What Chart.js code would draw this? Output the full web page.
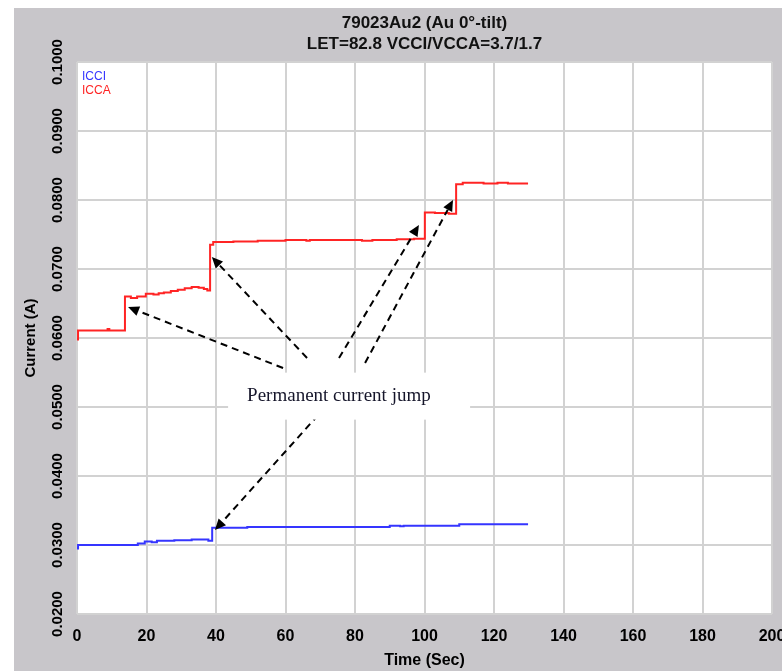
<!DOCTYPE html>
<html>
<head>
<meta charset="utf-8">
<script src="https://cdn.jsdelivr.net/npm/chart.js@4.4.1/dist/chart.umd.min.js"></script>
<style>
  html, body { margin: 0; padding: 0; background: #ffffff; }
  #wrap { width: 782px; height: 671px; }
</style>
</head>
<body>
<div id="wrap"><canvas id="c" width="782" height="671"></canvas></div>
<script>
// Chart text
const titleLines = ['79023Au2 (Au 0°-tilt)', 'LET=82.8 VCCI/VCCA=3.7/1.7'];
const seriesNames = ['ICCI', 'ICCA'];
const xAxisTitle = 'Time (Sec)';
const yAxisTitle = 'Current (A)';

// Axis ranges
const timeMin = 0, timeMax = 200, timeStep = 20;
const currentMin = 0.02, currentMax = 0.1, currentStep = 0.01;

// ICCI supply current: time (s) at which each level starts, and the level (A)
const icciTime    = [0,      0.3,    17.5,   19.5,   21.5,   23,     28,     33,     37.8,   38.9,   49,     90,     93,     94,     110,    129.8];
const icciCurrent = [0.0295, 0.0300, 0.0302, 0.0305, 0.0304, 0.0306, 0.0307, 0.0308, 0.0306, 0.0325, 0.0326, 0.0328, 0.0327, 0.0328, 0.0330, 0.0330];

// ICCA supply current
const iccaTime    = [0,      0.3,    8.8,    9.3,    13.8,   15.5,   17.3,   19.8,   22,     23.5,   25,     27,     29,     31,     33,     35,     36.5,   37.5,   38.3,   39.2,   45,     52,     60,     66,     67,     75,     82,     85,     92,     97,     100.1,  103,    107,    109.1,  111,    117,    121,    124,    129.8];
const iccaCurrent = [0.0598, 0.0611, 0.0613, 0.0611, 0.0660, 0.0658, 0.0660, 0.0664, 0.0663, 0.0665, 0.0666, 0.0668, 0.0670, 0.0672, 0.0674, 0.0673, 0.0671, 0.0669, 0.0735, 0.0739, 0.0740, 0.0741, 0.0742, 0.0741, 0.0742, 0.0742, 0.0741, 0.0742, 0.0743, 0.0744, 0.0782, 0.0781, 0.0780, 0.0823, 0.0825, 0.0824, 0.0825, 0.0824, 0.0824];

// Call-out: label position and the current jumps it points at (time, current)
const noteText = 'Permanent current jump';
const noteAt = [78.3, 0.0515];
const arrowFrom = [[59.3, 0.05565], [66.2, 0.0571], [75.4, 0.0571], [82.9, 0.05638], [69.4, 0.04884]];
const arrowTo   = [[14.7, 0.06449], [38.8, 0.07174], [98.4, 0.07638], [108.2, 0.0800], [39.7, 0.03217]];

const seriesColors = ['#3535ff', '#ff2424'];
const panelGray = '#c8c6ca';
const xTickFont = { family: '"Liberation Sans Narrow", "Liberation Sans", Arial, sans-serif', size: 16, weight: 'bold' };
const yTickFont = { family: '"Liberation Sans", Arial, sans-serif', size: 15, weight: 'bold' };

function toPoints(xs, ys) { return xs.map((x, i) => ({ x: x, y: ys[i] })); }

// measure the widest y label so the rotated labels sit centred in their column
const mctx = document.createElement('canvas').getContext('2d');
mctx.font = 'bold 15px "Liberation Sans", Arial, sans-serif';
const yLabelWidth = mctx.measureText('0.1000').width;

const backdrop = {
  id: 'backdrop',
  beforeDraw(chart) {
    const { ctx, width, height, chartArea: a } = chart;
    ctx.save();
    ctx.fillStyle = '#ffffff';
    ctx.fillRect(0, 0, width, height);
    ctx.fillStyle = panelGray;
    ctx.fillRect(14, 8, width - 14, height - 8);
    ctx.fillStyle = '#ffffff';
    ctx.fillRect(a.left, a.top, a.right - a.left, a.bottom - a.top);
    ctx.restore();
  }
};

const headings = {
  id: 'headings',
  afterDraw(chart) {
    const { ctx, chartArea: a } = chart;
    ctx.save();
    ctx.fillStyle = '#111111';
    ctx.textAlign = 'center';
    ctx.textBaseline = 'middle';
    ctx.font = 'bold 17px "Liberation Sans Narrow", "Liberation Sans", Arial, sans-serif';
    const cx = (a.left + a.right) / 2;
    ctx.fillText(titleLines[0], cx, a.top - 39);
    ctx.fillText(titleLines[1], cx, a.top - 18);
    // series key in the top-left corner of the plot
    ctx.textAlign = 'left';
    ctx.font = '12px "Liberation Sans", Arial, sans-serif';
    chart.data.datasets.forEach((ds, i) => {
      ctx.fillStyle = ds.borderColor;
      ctx.fillText(ds.label, a.left + 5, a.top + 15 + i * 14);
    });
    ctx.restore();
  }
};

const callout = {
  id: 'callout',
  afterDatasetsDraw(chart) {
    const { ctx, scales: { x, y } } = chart;
    ctx.save();
    ctx.strokeStyle = '#000000';
    ctx.fillStyle = '#000000';
    ctx.lineWidth = 2;
    arrowFrom.forEach((from, i) => {
      const x0 = x.getPixelForValue(from[0]), y0 = y.getPixelForValue(from[1]);
      const x1 = x.getPixelForValue(arrowTo[i][0]), y1 = y.getPixelForValue(arrowTo[i][1]);
      const ang = Math.atan2(y1 - y0, x1 - x0);
      const headLen = 11, headW = 5;
      const bx = x1 - headLen * Math.cos(ang), by = y1 - headLen * Math.sin(ang);
      ctx.setLineDash([7, 5]);
      ctx.beginPath();
      ctx.moveTo(x0, y0);
      ctx.lineTo(bx, by);
      ctx.stroke();
      ctx.setLineDash([]);
      ctx.beginPath();
      ctx.moveTo(x1, y1);
      ctx.lineTo(bx + headW * Math.sin(ang), by - headW * Math.cos(ang));
      ctx.lineTo(bx - headW * Math.sin(ang), by + headW * Math.cos(ang));
      ctx.closePath();
      ctx.fill();
    });
    const cx = x.getPixelForValue(noteAt[0]), cy = y.getPixelForValue(noteAt[1]);
    ctx.fillStyle = '#ffffff';
    ctx.fillRect(cx - 121, cy - 24, 242, 47);
    ctx.fillStyle = '#15152a';
    ctx.font = '19px "Liberation Serif", "Times New Roman", serif';
    ctx.textAlign = 'left';
    ctx.textBaseline = 'alphabetic';
    ctx.fillText(noteText, cx - 102, cy + 4);
    ctx.restore();
  }
};

new Chart(document.getElementById('c'), {
  type: 'line',
  data: {
    datasets: [
      { label: seriesNames[0], data: toPoints(icciTime, icciCurrent), borderColor: seriesColors[0],
        borderWidth: 2, pointRadius: 0, stepped: true, fill: false },
      { label: seriesNames[1], data: toPoints(iccaTime, iccaCurrent), borderColor: seriesColors[1],
        borderWidth: 2, pointRadius: 0, stepped: true, fill: false }
    ]
  },
  options: {
    responsive: false,
    animation: false,
    devicePixelRatio: 1,
    layout: { padding: { left: 14, top: 62, right: 10, bottom: 0 } },
    plugins: { legend: { display: false }, title: { display: false }, tooltip: { enabled: false } },
    scales: {
      x: {
        type: 'linear', min: timeMin, max: timeMax,
        grid: { color: '#d2d2d2', lineWidth: 2, drawTicks: false },
        border: { display: false },
        ticks: { stepSize: timeStep, color: '#000', font: xTickFont, padding: 13, maxRotation: 0, autoSkip: false },
        title: { display: true, text: xAxisTitle, color: '#000', font: xTickFont, padding: { top: 0, bottom: 1 } },
        afterFit(s) { s.height = 57; s.paddingLeft = 0; s.paddingRight = 0; }
      },
      y: {
        type: 'linear', min: currentMin, max: currentMax,
        grid: { color: '#d2d2d2', lineWidth: 2, drawTicks: false },
        border: { display: false },
        ticks: { stepSize: currentStep, color: '#000', font: yTickFont, minRotation: 90, maxRotation: 90,
                 crossAlign: 'center', padding: 19.5 - yLabelWidth / 2, autoSkip: false,
                 callback: v => v.toFixed(4) },
        title: { display: true, text: yAxisTitle, color: '#000',
                 font: { family: '"Liberation Sans", Arial, sans-serif', size: 15, weight: 'bold' },
                 padding: { top: 8, bottom: 0 } },
        afterFit(s) { s.width = 63; s.paddingTop = 0; s.paddingBottom = 0; }
      }
    }
  },
  plugins: [backdrop, headings, callout]
});
</script>
</body>
</html>
